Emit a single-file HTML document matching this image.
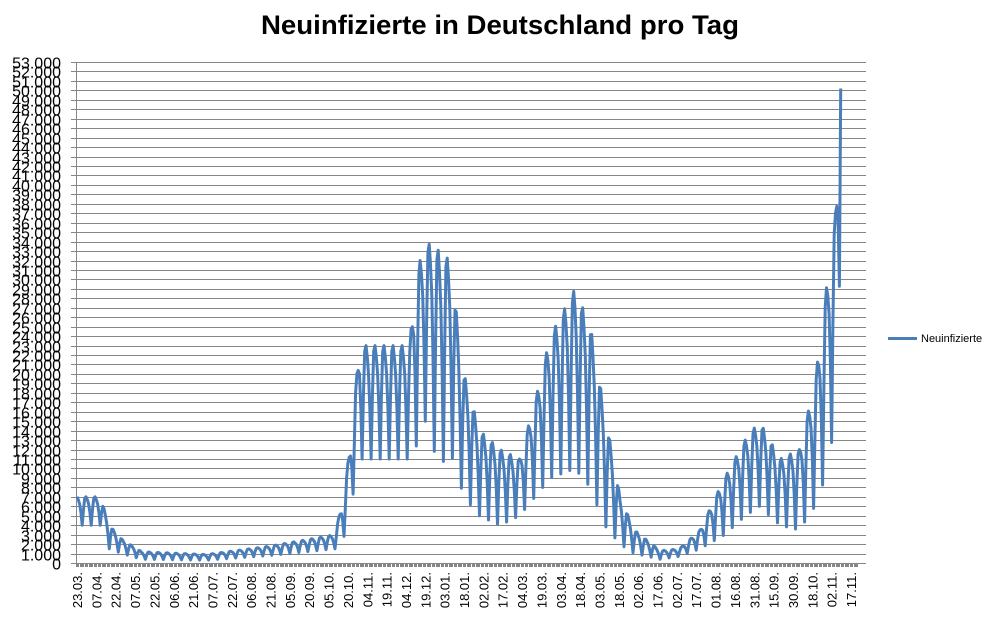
<!DOCTYPE html>
<html><head><meta charset="utf-8"><style>
html,body{margin:0;padding:0;background:#fff;}
svg{display:block;font-family:"Liberation Sans",Arial,sans-serif;}
</style></head><body>
<svg id="s" width="1001" height="643" viewBox="0 0 1001 643">
<text x="500" y="34" text-anchor="middle" font-size="27" font-weight="bold" fill="#000" textLength="478" lengthAdjust="spacingAndGlyphs">Neuinfizierte in Deutschland pro Tag</text>
<g id="grid" stroke="#868686" stroke-width="1"></g>
<g id="ylab" font-size="16" fill="#000" text-anchor="end"></g>
<g id="xlab" font-size="13" fill="#000"></g>
<path id="data" fill="none" stroke="#4a7ebb" stroke-width="3" stroke-linejoin="round"/>
<line x1="888" y1="338.5" x2="917" y2="338.5" stroke="#4a7ebb" stroke-width="3"/>
<text x="921" y="342" font-size="11" fill="#000">Neuinfizierte</text>
</svg>
<script>
var NS="http://www.w3.org/2000/svg";
function el(t,a,p){var e=document.createElementNS(NS,t);for(var k in a)e.setAttribute(k,a[k]);p.appendChild(e);return e;}
var g=document.getElementById("grid"),yl=document.getElementById("ylab"),xl=document.getElementById("xlab");
var y0=563,y1=62,step=(y0-y1)/53;
for(var i=0;i<=53;i++){var y=Math.round(y0-i*step)+0.5;
 el("line",{x1:71,y1:y,x2:866,y2:y},g);
 var t=el("text",{x:61,y:y+6},yl);t.textContent=i==0?"0":(i+".000");}
el("line",{x1:76.5,y1:62,x2:76.5,y2:567},g);
var x0=77,ppd=1.29;
for(var d=0;d<=605;d++){var x=Math.round(x0+d*ppd)+0.5;if(x>866)break;el("line",{x1:x,y1:563,x2:x,y2:567},g);}
var labs="23.03.,07.04.,22.04.,07.05.,22.05.,06.06.,21.06.,07.07.,22.07.,06.08.,21.08.,05.09.,20.09.,05.10.,20.10.,04.11.,19.11.,04.12.,19.12.,03.01.,18.01.,02.02.,17.02.,04.03.,19.03.,03.04.,18.04.,03.05.,18.05.,02.06.,17.06.,02.07.,17.07.,01.08.,16.08.,31.08.,15.09.,30.09.,18.10.,02.11.,17.11.".split(",");
for(var i=0;i<labs.length;i++){var x=77+i*19.35+5;var t=el("text",{transform:"translate("+x+",572) rotate(-90)","text-anchor":"end"},xl);t.textContent=labs[i];}
var K=[[0,7,4],[18,7,4],[25,4,1.5],[35,2.5,1],[50,1.2,0.4],[100,0.9,0.3],[150,1.8,0.8],[200,3,1.5],[208,8,3],[215,17,8],[219,23,11],[258,23,11],[262,30,12],[270,34,15],[281,33,10],[289,32,12],[300,20,7],[312,14,5],[328,12,4],[343,11,5],[355,17,7],[367,24,9],[386,29,10],[398,25,8],[409,16,4],[421,7,2],[432,3.5,1],[452,1.3,0.4],[467,1.5,0.7],[483,3.5,1.5],[502,9,3],[518,13,5],[529,15,6],[545,11,4],[560,12,3.5],[572,19,6],[580,28,9],[588,37,15],[592,50,15]];
function env(d){for(var i=0;i<K.length-1;i++){if(d<=K[i+1][0]){var a=K[i],b=K[i+1],f=(d-a[0])/(b[0]-a[0]);return [a[1]+(b[1]-a[1])*f,a[2]+(b[2]-a[2])*f];}}return [K[K.length-1][1],K[K.length-1][2]];}
var pat=[0,0.55,0.95,1,0.9,0.75,0.45];
var p="";
for(var d=0;d<=592;d++){var e=env(d);var w=pat[(d+3)%7];var v=e[1]+(e[0]-e[1])*w;if(d==592)v=50.2;
 var x=x0+d*ppd,y=y0-v*step;p+=(d?"L":"M")+x.toFixed(1)+","+y.toFixed(1);}
document.getElementById("data").setAttribute("d",p);
</script>
</body></html>
